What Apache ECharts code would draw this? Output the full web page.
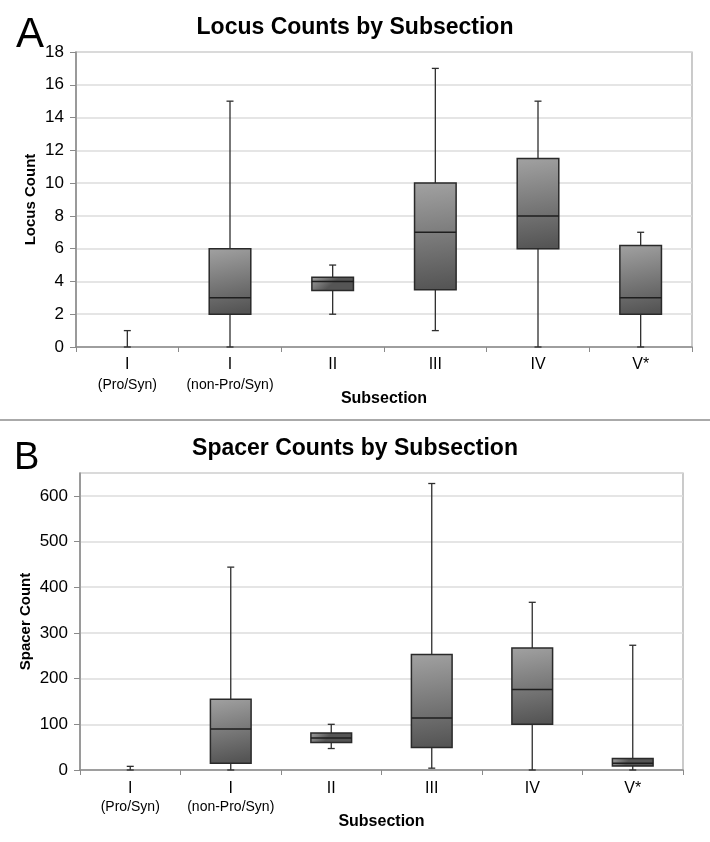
<!DOCTYPE html>
<html>
<head>
<meta charset="utf-8">
<script src="https://cdn.jsdelivr.net/npm/echarts@6/dist/echarts.min.js"></script>
<style>
html,body{margin:0;padding:0;background:#fff;}
#chart{width:710px;height:842px;}
</style>
</head>
<body>
<div id="chart"></div>
<script>
// Categories
const catMain = ['I', 'I', 'II', 'III', 'IV', 'V*'];
const catSub = ['(Pro/Syn)', '(non-Pro/Syn)', '', '', '', ''];

// Panel A: Locus counts  [min, Q1, median, Q3, max]
const locusMin    = [0, 0, 2,    1,   0,    0];
const locusQ1     = [0, 2, 3.45, 3.5, 6,    2];
const locusMedian = [0, 3, 4,    7,   8,    3];
const locusQ3     = [0, 6, 4.25, 10,  11.5, 6.2];
const locusMax    = [1, 15, 5,   17,  15,   7];

// Panel B: Spacer counts [min, Q1, median, Q3, max]
const spacerMin    = [0, 0,   47,  4,   0,   0];
const spacerQ1     = [0, 15,  60,  49,  100, 9];
const spacerMedian = [0, 90,  70,  114, 176, 15];
const spacerQ3     = [0, 155, 81,  253, 267, 25];
const spacerMax    = [8, 444, 100, 627, 367, 273];

// Axis ticks
const locusTicks = {min: 0, max: 18, interval: 2};
const spacerTicks = {min: 0, max: 650, interval: 100};

const FONT = 'Liberation Sans, Arial, sans-serif';

function rows(mn, q1, md, q3, mx) {
  return mn.map((v, i) => [i, v, q1[i], md[i], q3[i], mx[i]]);
}

const catLabels = catMain.map((m, i) => catSub[i] ? m + '\n{s|' + catSub[i] + '}' : m);

function renderBox(params, api) {
  const x = api.value(0);
  const lo = api.coord([x, api.value(1)]);
  const q1 = api.coord([x, api.value(2)]);
  const md = api.coord([x, api.value(3)]);
  const q3 = api.coord([x, api.value(4)]);
  const hi = api.coord([x, api.value(5)]);
  const band = api.size([1, 0])[0];
  const bw = band * 0.405;
  const cx = lo[0];
  const cap = 3.5;
  const lineStyle = {stroke: '#2e2e2e', lineWidth: 1.3};
  const children = [];
  children.push({type: 'line', shape: {x1: cx, y1: lo[1], x2: cx, y2: q1[1]}, style: lineStyle});
  children.push({type: 'line', shape: {x1: cx, y1: q3[1], x2: cx, y2: hi[1]}, style: lineStyle});
  children.push({type: 'line', shape: {x1: cx - cap, y1: hi[1], x2: cx + cap, y2: hi[1]}, style: lineStyle});
  children.push({type: 'line', shape: {x1: cx - cap, y1: lo[1], x2: cx + cap, y2: lo[1]}, style: lineStyle});
  if (q1[1] - q3[1] > 0.5) {
    children.push({
      type: 'rect',
      shape: {x: cx - bw / 2, y: q3[1], width: bw, height: q1[1] - q3[1]},
      style: {
        fill: new echarts.graphic.LinearGradient(0, 0, 0.3, 1, [
          {offset: 0, color: '#a2a2a2'},
          {offset: 1, color: '#555555'}
        ]),
        stroke: '#2a2a2a', lineWidth: 1.5
      }
    });
    children.push({type: 'line', shape: {x1: cx - bw / 2, y1: md[1], x2: cx + bw / 2, y2: md[1]}, style: {stroke: '#1e1e1e', lineWidth: 1.5}});
  }
  return {type: 'group', children: children};
}

function xAxisCfg(gridIndex, margin, lh, nameGap) {
  return {
    type: 'category', gridIndex: gridIndex, data: catLabels,
    boundaryGap: true,
    name: 'Subsection', nameLocation: 'middle', nameGap: nameGap, nameMoveOverlap: false,
    nameTextStyle: {fontFamily: FONT, fontSize: 16, fontWeight: 'bold', color: '#000'},
    axisLine: {lineStyle: {color: '#8a8a8a', width: 1.5}},
    axisTick: {show: true, length: 5, lineStyle: {color: '#8a8a8a'}},
    axisLabel: {
      fontFamily: FONT, fontSize: 16, color: '#000', margin: margin, lineHeight: lh, interval: 0,
      rich: {s: {fontFamily: FONT, fontSize: 14, color: '#000', lineHeight: lh}}
    },
    splitLine: {show: false}
  };
}

function yAxisCfg(gridIndex, name, ticks, nameGap) {
  return {
    type: 'value', gridIndex: gridIndex, min: ticks.min, max: ticks.max, interval: ticks.interval,
    name: name, nameLocation: 'middle', nameGap: nameGap, nameRotate: 90, nameMoveOverlap: false,
    nameTextStyle: {fontFamily: FONT, fontSize: 15, fontWeight: 'bold', color: '#000'},
    axisLine: {show: true, lineStyle: {color: '#8a8a8a', width: 1.5}},
    axisTick: {show: true, length: 6, lineStyle: {color: '#8a8a8a'}},
    axisLabel: {fontFamily: FONT, fontSize: 17, color: '#000', margin: 12, showMaxLabel: ticks.max % ticks.interval === 0},
    splitLine: {show: true, lineStyle: {color: '#dcdcdc', width: 1.5}}
  };
}

const chart = echarts.init(document.getElementById('chart'), null, {renderer: 'canvas'});
chart.setOption({
  backgroundColor: '#fff',
  animation: false,
  title: [
    {text: 'Locus Counts by Subsection', left: 'center', top: 11, textStyle: {fontFamily: FONT, fontSize: 23, fontWeight: 'bold', color: '#000'}},
    {text: 'Spacer Counts by Subsection', left: 'center', top: 432, textStyle: {fontFamily: FONT, fontSize: 23, fontWeight: 'bold', color: '#000'}},
    {text: 'A', left: 11, top: 9, textStyle: {fontFamily: FONT, fontSize: 42, fontWeight: 'normal', color: '#000'}},
    {text: 'B', left: 9, top: 435, textStyle: {fontFamily: FONT, fontSize: 38, fontWeight: 'normal', color: '#000'}}
  ],
  graphic: [
    {type: 'line', shape: {x1: 0, y1: 420, x2: 710, y2: 420}, style: {stroke: '#aaaaaa', lineWidth: 2}}
  ],
  grid: [
    {left: 76, top: 52, right: 18, bottom: 495, show: true, borderColor: '#a8a8a8', borderWidth: 1.2, backgroundColor: 'transparent'},
    {left: 80, top: 473, right: 27, bottom: 72, show: true, borderColor: '#a8a8a8', borderWidth: 1.2, backgroundColor: 'transparent'}
  ],
  xAxis: [xAxisCfg(0, 8, 20, 44), xAxisCfg(1, 10, 18, 44)],
  yAxis: [yAxisCfg(0, 'Locus Count', locusTicks, 38), yAxisCfg(1, 'Spacer Count', spacerTicks, 47)],
  series: [
    {type: 'custom', xAxisIndex: 0, yAxisIndex: 0, renderItem: renderBox,
     encode: {x: 0, y: [1, 2, 3, 4, 5]},
     data: rows(locusMin, locusQ1, locusMedian, locusQ3, locusMax)},
    {type: 'custom', xAxisIndex: 1, yAxisIndex: 1, renderItem: renderBox,
     encode: {x: 0, y: [1, 2, 3, 4, 5]},
     data: rows(spacerMin, spacerQ1, spacerMedian, spacerQ3, spacerMax)}
  ]
});
</script>
</body>
</html>
